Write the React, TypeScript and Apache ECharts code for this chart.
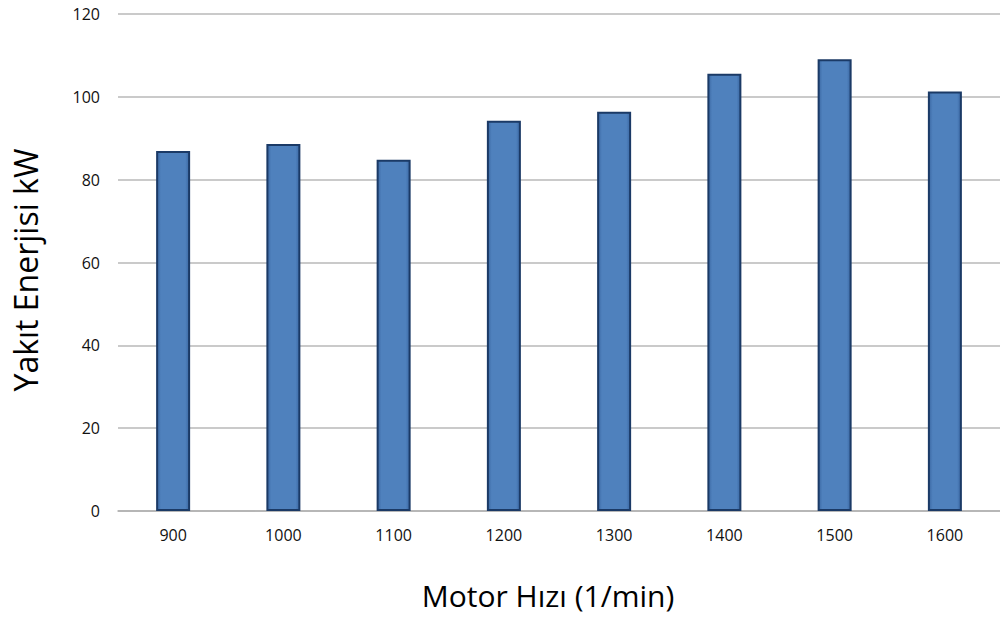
import React, { useEffect, useRef } from "react";
import * as echarts from "echarts";

const categories = ["900", "1000", "1100", "1200", "1300", "1400", "1500", "1600"];
const values = [86.9, 88.6, 84.8, 94.2, 96.4, 105.6, 109.1, 101.3];
const yTicks = [0, 20, 40, 60, 80, 100, 120];
const xTitle = "Motor Hızı (1/min)";
const yTitle = "Yakıt Enerjisi kW";

export default function App() {
  const ref = useRef<HTMLDivElement>(null);
  useEffect(() => {
    if (!ref.current) return;
    const chart = echarts.init(ref.current, null, { renderer: "svg" });
    const font = "'Open Sans', 'Noto Sans', sans-serif";
    chart.setOption({
      animation: false,
      backgroundColor: "#ffffff",
      grid: { left: 118, right: -4, top: 14, bottom: 106, containLabel: false },
      xAxis: {
        type: "category",
        data: categories,
        axisLine: { show: true, lineStyle: { color: "#b0b0b0", width: 1.5 } },
        axisTick: { show: false },
        axisLabel: { color: "#111", fontSize: 16, fontFamily: font, margin: 16 },
      },
      yAxis: {
        type: "value",
        min: yTicks[0],
        max: yTicks[yTicks.length - 1],
        interval: 20,
        axisLine: { show: false },
        axisTick: { show: false },
        axisLabel: { color: "#111", fontSize: 16, fontFamily: font, margin: 18 },
        splitLine: { lineStyle: { color: "#b8b8b8", width: 1.5 } },
      },
      graphic: [
        {
          type: "text",
          x: 548,
          y: 595,
          style: {
            text: xTitle,
            font: `30px ${font}`,
            fill: "#000",
            align: "center",
            verticalAlign: "middle",
          },
        },
        {
          type: "text",
          x: 25,
          y: 270,
          rotation: Math.PI / 2,
          style: {
            text: yTitle,
            font: `32px ${font}`,
            fill: "#000",
            align: "center",
            verticalAlign: "middle",
          },
        },
      ],
      series: [
        {
          type: "bar",
          data: values,
          barWidth: 34,
          itemStyle: {
            color: {
              type: "linear",
              x: 0,
              y: 0,
              x2: 1,
              y2: 0,
              colorStops: [
                { offset: 0, color: "#3b68a3" },
                { offset: 0.12, color: "#4f81bd" },
                { offset: 0.88, color: "#4f81bd" },
                { offset: 1, color: "#3b68a3" },
              ],
            },
            borderColor: "#1b3a66",
            borderWidth: 2,
          },
        },
      ],
    });
    return () => chart.dispose();
  }, []);
  return <div ref={ref} style={{ width: 1000, height: 617, position: "absolute", left: 0, top: 0 }} />;
}
